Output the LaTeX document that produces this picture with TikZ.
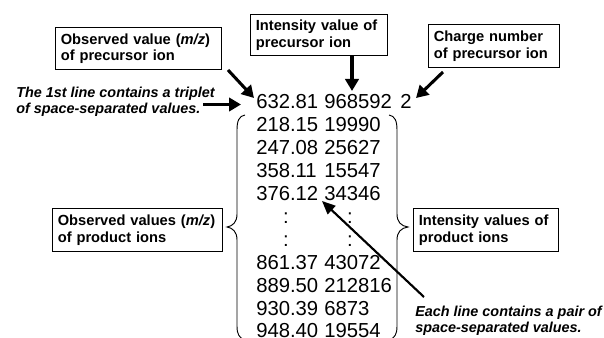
\documentclass[tikz,border=0pt]{standalone}
\usepackage{fontspec}
\setmainfont{Liberation Sans}
\usetikzlibrary{arrows.meta}

\begin{document}
\begin{tikzpicture}[x=0.75pt,y=-0.75pt,
  labelbox/.style={draw,line width=0.75pt,inner xsep=4pt,inner ysep=0pt,
    align=left,font=\fontsize{11}{12.4}\selectfont\bfseries,anchor=north west},
  note/.style={align=left,anchor=base west,inner sep=0pt,
    font=\fontsize{10.8}{12}\selectfont\bfseries\itshape},
  num/.style={anchor=base west,inner sep=0pt,font=\fontsize{15.2}{18}\selectfont},
  gap/.style={anchor=base,inner sep=0pt,font=\fontsize{15.2}{18}\selectfont},
  fatarrow/.style={line width=2.3pt,-{Triangle[length=9pt,width=10pt]}},
  thinarrow/.style={line width=1.6pt,-{Triangle[length=10pt,width=8.5pt]}},
  brace/.style={line width=0.7pt}]
\useasboundingbox (0,0) rectangle (604,338);

% label boxes
\node[labelbox,text width=116.5pt,minimum height=31.5pt] (obs) at (55,27)
  {Observed value (\textit{m/z})\\of precursor ion};
\node[labelbox,text width=94.75pt,minimum height=30.75pt] (int) at (250,14)
  {Intensity value of\\precursor ion};
\node[labelbox,text width=90.25pt,minimum height=32.25pt] (chg) at (428,24)
  {Charge number\\of precursor ion};
\node[labelbox,text width=119.5pt,minimum height=32.25pt] (obsp) at (52,208)
  {Observed values (\textit{m/z})\\of product ions};
\node[labelbox,text width=100.75pt,minimum height=32.25pt] (intp) at (413,208)
  {Intensity values of\\product ions};

% notes (the base anchor sits on the last line)
\node[note] (first) at (16,114) {The 1st line contains a triplet\\of space-separated values.};
\node[note] (each) at (415,333) {Each line contains a pair of\\space-separated values.};

% the peak list
\node[num] (r0a) at (256,109) {632.81};
\node[num] (r0b) at (324,109) {968592};
\node[num] (r0c) at (400,109) {2};
\node[num] (r1a) at (256,131.9) {218.15};
\node[num] (r1b) at (324,131.9) {19990};
\node[num] (r2a) at (256,154.8) {247.08};
\node[num] (r2b) at (324,154.8) {25627};
\node[num] (r3a) at (256,177.7) {358.11};
\node[num] (r3b) at (324,177.7) {15547};
\node[num] (r4a) at (256,200.6) {376.12};
\node[num] (r4b) at (324,200.6) {34346};
\node[gap] (d1a) at (286,223.5) {:};
\node[gap] (d1b) at (350,223.5) {:};
\node[gap] (d2a) at (286,246.4) {:};
\node[gap] (d2b) at (350,246.4) {:};
\node[num] (r7a) at (256,269.3) {861.37};
\node[num] (r7b) at (324,269.3) {43072};
\node[num] (r8a) at (256,292.2) {889.50};
\node[num] (r8b) at (324,292.2) {212816};
\node[num] (r9a) at (256,315.1) {930.39};
\node[num] (r9b) at (324,315.1) {6873};
\node[num] (r10a) at (256,338) {948.40};
\node[num] (r10b) at (324,338) {19554};

% braces around the fragment lines
\draw[brace] (245,115) .. controls (239,116) and (237,121) .. (237,130) -- (237,214)
  .. controls (237,222) and (233,226) .. (227,227)
  .. controls (233,228) and (237,232) .. (237,240) -- (237,326)
  .. controls (237,334) and (239,338) .. (245,340);
\draw[brace] (389,115) .. controls (395,116) and (397,121) .. (397,130) -- (397,214)
  .. controls (397,222) and (401,226) .. (408,227)
  .. controls (401,228) and (397,232) .. (397,240) -- (397,326)
  .. controls (397,334) and (395,338) .. (389,340);

% arrow end points
\coordinate (obsT) at (228,70);
\coordinate (obsH) at (254,98);
\coordinate (intT) at (352,56);
\coordinate (intH) at (352,91);
\coordinate (chgT) at (443,72);
\coordinate (chgH) at (416,98);
\coordinate (firstT) at (203,104.5);
\coordinate (firstH) at (241,104.5);
\coordinate (eachT) at (424,297);
\coordinate (eachH) at (322,201);

\draw[fatarrow] (obsT) -- (obsH);
\draw[fatarrow] (intT) -- (intH);
\draw[fatarrow] (chgT) -- (chgH);
\draw[fatarrow] (firstT) -- (firstH);
\draw[thinarrow] (eachT) -- (eachH);
\end{tikzpicture}
\end{document}
